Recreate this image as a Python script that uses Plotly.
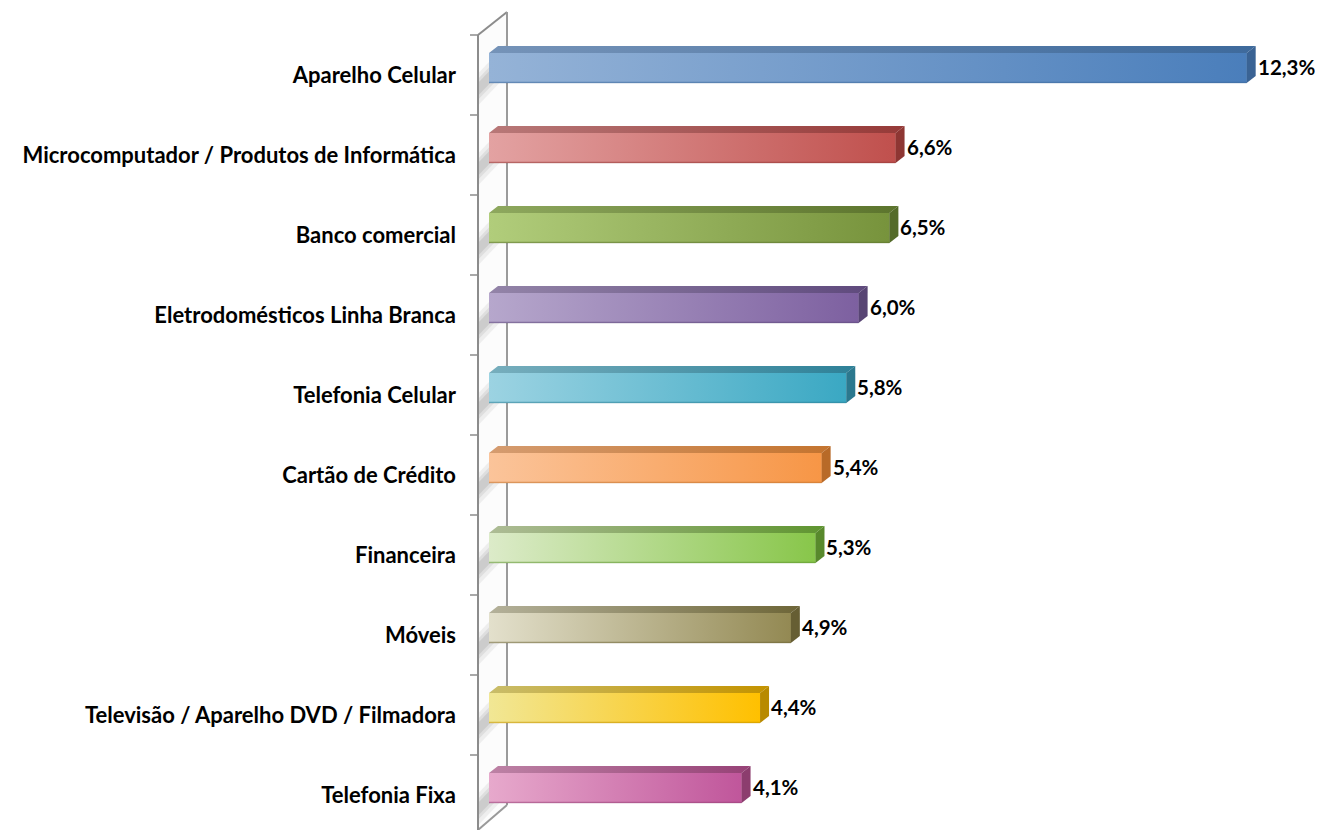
import plotly.graph_objects as go

categories = [
    "Aparelho Celular",
    "Microcomputador / Produtos de Informática",
    "Banco comercial",
    "Eletrodomésticos Linha Branca",
    "Telefonia Celular",
    "Cartão de Crédito",
    "Financeira",
    "Móveis",
    "Televisão / Aparelho DVD / Filmadora",
    "Telefonia Fixa",
]
values = [12.3, 6.6, 6.5, 6.0, 5.8, 5.4, 5.3, 4.9, 4.4, 4.1]
value_labels = ["12,3%", "6,6%", "6,5%", "6,0%", "5,8%", "5,4%", "5,3%", "4,9%", "4,4%", "4,1%"]

light_colors = ["#95b3d7", "#e3a2a2", "#b1cd7b", "#b6a7cc", "#9cd3e2",
                "#fbc49a", "#dcebc9", "#e3e0cc", "#f1e795", "#e7a9cc"]
dark_colors = ["#4a7ebb", "#c0504d", "#77933c", "#7d60a0", "#3aa8c3",
               "#f79646", "#88c64a", "#938953", "#ffc000", "#c0569b"]
top_light = ["#7593b8", "#b87878", "#8ea85e", "#9384a8", "#77aebd",
             "#d59c70", "#aebc96", "#b4b19a", "#c9bd6a", "#bd82a5"]
top_dark = ["#3e6a9c", "#963a38", "#5c742d", "#5f4a7d", "#2e8198",
            "#c4742f", "#5f9530", "#6e6638", "#c49300", "#974277"]
side_colors = ["#3a6394", "#8e3633", "#546b29", "#584574", "#2b788e",
               "#b86a28", "#58892c", "#665e33", "#b88a00", "#8c3d6e"]

n = len(categories)
pos = [n - 1 - i for i in range(n)]

# geometry (page has an 8px body margin, figure pixels = screen pixels - 8)
FIG_W, FIG_H = 1315, 822
PX_X = 61.6
PX_Y = 80.0
ZERO_PX = 481          # figure px of x = 0
LEFT_PX = 462          # figure px of plot-area left edge
BAND_TOP_PX = 27       # figure px of top of first category band
FRONT_H = 30 / PX_Y
LIFT = 7 / PX_Y
DX = 9 / PX_X
DZ = 7 / PX_Y

X0 = (LEFT_PX - ZERO_PX) / PX_X
X1 = (FIG_W - ZERO_PX) / PX_X
Y_TOP = 9.5 + BAND_TOP_PX / PX_Y
Y_BOT = 9.5 - (FIG_H - BAND_TOP_PX) / PX_Y

FONT = "Lato"

fig = go.Figure()

for i, (p, v) in enumerate(zip(pos, values)):
    yc = p + LIFT
    b = yc - FRONT_H / 2
    t = yc + FRONT_H / 2
    # main bar (front face)
    fig.add_trace(go.Bar(
        x=[v], y=[yc], orientation="h", width=FRONT_H,
        marker=dict(color=dark_colors[i], line=dict(width=0)),
        name=categories[i], showlegend=False,
        hovertemplate=categories[i] + ": " + value_labels[i] + "<extra></extra>",
    ))
    # gradient overlay on the front face
    fig.add_trace(go.Scatter(
        x=[0, v, v, 0, 0], y=[b, b, t, t, b], mode="lines",
        line=dict(width=0), fill="toself",
        fillgradient=dict(type="horizontal",
                          colorscale=[[0, light_colors[i]], [1, dark_colors[i]]]),
        hoverinfo="skip", showlegend=False,
    ))
    # bottom edge shading
    fig.add_trace(go.Scatter(
        x=[0, v], y=[b + 0.006, b + 0.006], mode="lines",
        line=dict(width=1.5, color=top_dark[i]), opacity=0.55,
        hoverinfo="skip", showlegend=False,
    ))
    # top face
    fig.add_trace(go.Scatter(
        x=[0, v, v + DX, DX, 0], y=[t, t, t + DZ, t + DZ, t], mode="lines",
        line=dict(width=0), fill="toself",
        fillgradient=dict(type="horizontal",
                          colorscale=[[0, top_light[i]], [1, top_dark[i]]]),
        hoverinfo="skip", showlegend=False,
    ))
    # side face
    fig.add_trace(go.Scatter(
        x=[v, v + DX, v + DX, v, v], y=[b, b + DZ, t + DZ, t, b], mode="lines",
        line=dict(width=0), fill="toself", fillcolor=side_colors[i],
        hoverinfo="skip", showlegend=False,
    ))
    fig.add_annotation(
        x=v, y=yc, text=value_labels[i], showarrow=False,
        xanchor="left", yanchor="middle", xshift=9, yshift=1,
        font=dict(family=FONT, size=20.5, color="#000000", weight="bold"),
    )

# --- 3D wall decoration ---
WX_F = (470 - ZERO_PX) / PX_X
WX_B = (499 - ZERO_PX) / PX_X
W_TOP_F = 9.5
W_TOP_B = 9.5 + 23 / PX_Y
W_BOT_B = 9.5 - (797 - BAND_TOP_PX) / PX_Y
shapes = []
shapes.append(dict(type="path", xref="x", yref="y", layer="below",
                   path=f"M {WX_F},{W_TOP_F} L {WX_B},{W_TOP_B} L {WX_B},{W_BOT_B} "
                        f"L {WX_F},{Y_BOT} Z",
                   fillcolor="#fcfcfc", line=dict(width=0)))
# soft diagonal reflective streaks, one per category band
for p in pos:
    top = p + 0.5
    for off, width, op in [(0.0, 0.40, 0.12), (0.07, 0.26, 0.17), (0.12, 0.16, 0.22)]:
        y_b1 = top - 0.10 - off
        y_f1 = y_b1 - 0.38
        shapes.append(dict(
            type="path", xref="x", yref="y", layer="below",
            path=f"M {WX_B},{y_b1} L {WX_B},{y_b1 - width} L {WX_F},{y_f1 - width} "
                 f"L {WX_F},{y_f1} Z",
            fillcolor="#8c8c8c", opacity=op, line=dict(width=0)))
# wall outline
shapes.append(dict(type="line", xref="x", yref="y", layer="below",
                   x0=WX_F, y0=W_TOP_F, x1=WX_B, y1=W_TOP_B,
                   line=dict(color="#8c8c8c", width=2)))
shapes.append(dict(type="line", xref="x", yref="y", layer="below",
                   x0=WX_B, y0=W_TOP_B, x1=WX_B, y1=W_BOT_B,
                   line=dict(color="#9a9a9a", width=2)))
shapes.append(dict(type="line", xref="x", yref="y", layer="below",
                   x0=WX_B, y0=W_BOT_B, x1=WX_F, y1=Y_BOT,
                   line=dict(color="#9a9a9a", width=2)))
shapes.append(dict(type="line", xref="x", yref="y", layer="above",
                   x0=WX_F, y0=W_TOP_F, x1=WX_F, y1=Y_BOT,
                   line=dict(color="#8c8c8c", width=2)))
# tick marks at category boundaries
for p in pos:
    shapes.append(dict(type="line", xref="x", yref="y", layer="above",
                       x0=X0, y0=p + 0.5, x1=WX_F, y1=p + 0.5,
                       line=dict(color="#8c8c8c", width=1.5)))

fig.update_layout(
    width=FIG_W, height=FIG_H,
    margin=dict(l=LEFT_PX, r=0, t=0, b=0),
    paper_bgcolor="#ffffff", plot_bgcolor="#ffffff",
    barmode="overlay",
    shapes=shapes,
    xaxis=dict(range=[X0, X1], visible=False, fixedrange=True),
    yaxis=dict(range=[Y_BOT, Y_TOP], tickmode="array", tickvals=pos,
               ticktext=categories, showgrid=False, zeroline=False,
               showline=False, ticks="", ticklabelstandoff=13,
               tickfont=dict(family=FONT, size=22, color="#000000", weight="bold"),
               fixedrange=True),
    showlegend=False,
)

fig.write_html("out.html")
